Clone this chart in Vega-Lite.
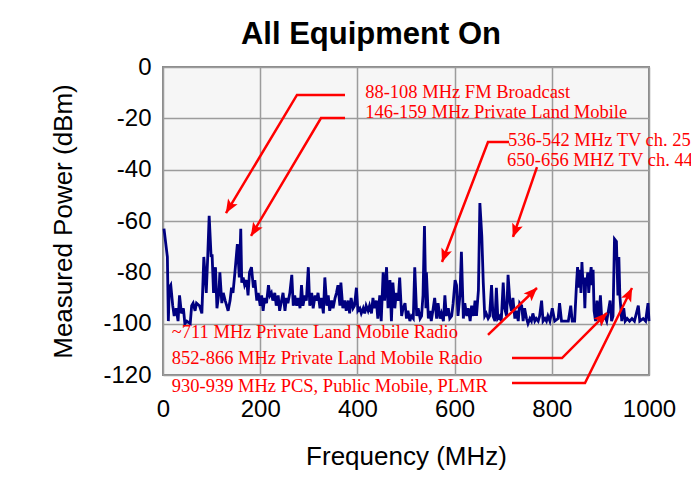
{
  "$schema": "https://vega.github.io/schema/vega-lite/v6.json",
  "width": 486,
  "height": 308,
  "autosize": {"type": "none"},
  "padding": {"left": 163, "top": 67, "right": 42, "bottom": 125},
  "background": "white",
  "title": {"text": "All Equipment On", "font": "Liberation Sans", "fontSize": 31, "fontWeight": "bold", "color": "black", "anchor": "middle", "dx": -35, "offset": 4},
  "config": {
    "view": {"fill": "#f6f6f6", "stroke": "#8a8a8a", "strokeWidth": 2},
    "axis": {"grid": true, "gridColor": "#9c9c9c", "gridWidth": 1.5, "domain": false, "ticks": false, "labelFont": "Liberation Sans", "labelFontSize": 24, "labelColor": "black", "labelFlush": false, "titleFont": "Liberation Sans", "titleFontSize": 26, "titleFontWeight": "normal", "titleColor": "black"}
  },
  "datasets": {
    "spectrum": [
      {"f":2,"p":-63},{"f":9,"p":-74},{"f":11,"p":-99},{"f":13,"p":-86},{"f":16,"p":-85},{"f":20,"p":-93},{"f":23,"p":-97},{"f":27,"p":-94},{"f":31,"p":-99},{"f":34,"p":-89},{"f":38,"p":-96},{"f":42,"p":-94},{"f":45,"p":-100},{"f":49,"p":-99},{"f":56,"p":-100},{"f":59,"p":-93},{"f":62,"p":-92},{"f":66,"p":-95},{"f":69,"p":-92},{"f":75,"p":-93},{"f":80,"p":-96},{"f":84,"p":-74},{"f":89,"p":-88},{"f":92,"p":-74},{"f":95,"p":-58},{"f":99,"p":-74},{"f":101,"p":-73},{"f":104,"p":-88},{"f":108,"p":-78},{"f":111,"p":-94},{"f":115,"p":-88},{"f":117,"p":-80},{"f":121,"p":-92},{"f":124,"p":-88},{"f":128,"p":-91},{"f":131,"p":-93},{"f":134,"p":-95},{"f":138,"p":-91},{"f":141,"p":-86},{"f":144,"p":-88},{"f":148,"p":-80},{"f":153,"p":-69},{"f":157,"p":-82},{"f":160,"p":-63},{"f":162,"p":-84},{"f":165,"p":-82},{"f":168,"p":-85},{"f":172,"p":-83},{"f":175,"p":-89},{"f":178,"p":-80},{"f":182,"p":-78},{"f":186,"p":-86},{"f":189,"p":-83},{"f":193,"p":-91},{"f":196,"p":-88},{"f":200,"p":-93},{"f":203,"p":-89},{"f":206,"p":-95},{"f":209,"p":-90},{"f":213,"p":-92},{"f":217,"p":-85},{"f":220,"p":-89},{"f":223,"p":-88},{"f":226,"p":-91},{"f":230,"p":-88},{"f":233,"p":-93},{"f":237,"p":-89},{"f":240,"p":-95},{"f":244,"p":-91},{"f":247,"p":-88},{"f":251,"p":-95},{"f":254,"p":-90},{"f":257,"p":-92},{"f":261,"p":-88},{"f":265,"p":-81},{"f":268,"p":-93},{"f":271,"p":-89},{"f":275,"p":-93},{"f":278,"p":-90},{"f":282,"p":-94},{"f":285,"p":-85},{"f":288,"p":-93},{"f":292,"p":-89},{"f":295,"p":-91},{"f":299,"p":-78},{"f":302,"p":-93},{"f":306,"p":-88},{"f":309,"p":-94},{"f":313,"p":-89},{"f":316,"p":-91},{"f":319,"p":-88},{"f":323,"p":-94},{"f":326,"p":-90},{"f":330,"p":-96},{"f":333,"p":-82},{"f":337,"p":-93},{"f":340,"p":-89},{"f":343,"p":-95},{"f":347,"p":-91},{"f":350,"p":-94},{"f":354,"p":-90},{"f":357,"p":-88},{"f":360,"p":-85},{"f":364,"p":-93},{"f":366,"p":-84},{"f":370,"p":-94},{"f":374,"p":-91},{"f":377,"p":-95},{"f":381,"p":-91},{"f":384,"p":-96},{"f":387,"p":-90},{"f":391,"p":-94},{"f":394,"p":-93},{"f":398,"p":-86},{"f":401,"p":-95},{"f":405,"p":-94},{"f":408,"p":-96},{"f":412,"p":-94},{"f":415,"p":-96},{"f":418,"p":-93},{"f":422,"p":-95},{"f":425,"p":-93},{"f":429,"p":-96},{"f":432,"p":-90},{"f":435,"p":-94},{"f":439,"p":-91},{"f":442,"p":-98},{"f":446,"p":-89},{"f":449,"p":-99},{"f":453,"p":-80},{"f":456,"p":-91},{"f":460,"p":-78},{"f":463,"p":-94},{"f":467,"p":-83},{"f":470,"p":-99},{"f":473,"p":-84},{"f":477,"p":-94},{"f":480,"p":-88},{"f":484,"p":-91},{"f":487,"p":-82},{"f":491,"p":-97},{"f":494,"p":-94},{"f":498,"p":-92},{"f":501,"p":-98},{"f":504,"p":-95},{"f":508,"p":-99},{"f":511,"p":-97},{"f":515,"p":-98},{"f":518,"p":-78},{"f":522,"p":-97},{"f":525,"p":-94},{"f":529,"p":-98},{"f":532,"p":-97},{"f":535,"p":-89},{"f":538,"p":-62},{"f":541,"p":-94},{"f":542,"p":-80},{"f":546,"p":-98},{"f":549,"p":-95},{"f":552,"p":-99},{"f":556,"p":-94},{"f":559,"p":-90},{"f":563,"p":-98},{"f":566,"p":-92},{"f":570,"p":-98},{"f":573,"p":-96},{"f":577,"p":-99},{"f":580,"p":-89},{"f":583,"p":-97},{"f":587,"p":-94},{"f":590,"p":-98},{"f":594,"p":-97},{"f":597,"p":-92},{"f":601,"p":-83},{"f":604,"p":-85},{"f":607,"p":-97},{"f":611,"p":-89},{"f":614,"p":-72},{"f":618,"p":-98},{"f":621,"p":-92},{"f":625,"p":-97},{"f":628,"p":-94},{"f":632,"p":-99},{"f":635,"p":-93},{"f":639,"p":-97},{"f":642,"p":-91},{"f":645,"p":-97},{"f":649,"p":-87},{"f":652,"p":-53},{"f":656,"p":-66},{"f":659,"p":-84},{"f":662,"p":-97},{"f":665,"p":-96},{"f":669,"p":-98},{"f":672,"p":-97},{"f":676,"p":-85},{"f":679,"p":-97},{"f":683,"p":-99},{"f":686,"p":-86},{"f":689,"p":-98},{"f":693,"p":-97},{"f":696,"p":-99},{"f":700,"p":-84},{"f":703,"p":-94},{"f":707,"p":-97},{"f":710,"p":-81},{"f":714,"p":-92},{"f":717,"p":-95},{"f":720,"p":-90},{"f":724,"p":-98},{"f":727,"p":-95},{"f":731,"p":-99},{"f":734,"p":-92},{"f":738,"p":-93},{"f":741,"p":-99},{"f":744,"p":-94},{"f":748,"p":-98},{"f":751,"p":-100},{"f":755,"p":-98},{"f":758,"p":-99},{"f":761,"p":-96},{"f":765,"p":-99},{"f":768,"p":-98},{"f":772,"p":-99},{"f":775,"p":-97},{"f":779,"p":-91},{"f":782,"p":-99},{"f":786,"p":-98},{"f":789,"p":-99},{"f":792,"p":-97},{"f":796,"p":-99},{"f":801,"p":-94},{"f":806,"p":-99},{"f":813,"p":-98},{"f":816,"p":-92},{"f":820,"p":-99},{"f":827,"p":-99},{"f":834,"p":-99},{"f":839,"p":-93},{"f":842,"p":-99},{"f":847,"p":-99},{"f":851,"p":-84},{"f":853,"p":-78},{"f":856,"p":-86},{"f":858,"p":-79},{"f":860,"p":-88},{"f":862,"p":-76},{"f":864,"p":-84},{"f":866,"p":-82},{"f":868,"p":-94},{"f":870,"p":-82},{"f":872,"p":-84},{"f":874,"p":-80},{"f":876,"p":-88},{"f":878,"p":-83},{"f":881,"p":-78},{"f":883,"p":-85},{"f":885,"p":-79},{"f":887,"p":-95},{"f":890,"p":-99},{"f":893,"p":-91},{"f":897,"p":-99},{"f":900,"p":-89},{"f":903,"p":-99},{"f":909,"p":-97},{"f":913,"p":-99},{"f":920,"p":-91},{"f":923,"p":-99},{"f":926,"p":-97},{"f":929,"p":-67},{"f":933,"p":-68},{"f":936,"p":-89},{"f":938,"p":-74},{"f":940,"p":-89},{"f":944,"p":-99},{"f":948,"p":-94},{"f":951,"p":-99},{"f":955,"p":-98},{"f":960,"p":-99},{"f":965,"p":-98},{"f":970,"p":-99},{"f":978,"p":-93},{"f":981,"p":-99},{"f":988,"p":-98},{"f":993,"p":-99},{"f":998,"p":-92},{"f":1000,"p":-99}
    ],
    "arrows": [
      {"id":"a1","seq":1,"f":374.5,"p":-10.9},{"id":"a1","seq":2,"f":275.7,"p":-10.9},{"id":"a1","seq":3,"f":129.6,"p":-56.9},
      {"id":"a2","seq":1,"f":374.5,"p":-19.9},{"id":"a2","seq":2,"f":325.1,"p":-19.9},{"id":"a2","seq":3,"f":181.1,"p":-65.8},
      {"id":"a3","seq":1,"f":712,"p":-29.2},{"id":"a3","seq":2,"f":668.7,"p":-29.2},{"id":"a3","seq":3,"f":574.1,"p":-76.0},
      {"id":"a4","seq":1,"f":769.5,"p":-39.0},{"id":"a4","seq":2,"f":720.2,"p":-66.2},
      {"id":"a5","seq":1,"f":668.7,"p":-104.4},{"id":"a5","seq":2,"f":769.5,"p":-86.1},
      {"id":"a6","seq":1,"f":718.1,"p":-113.4},{"id":"a6","seq":2,"f":821,"p":-113.4},{"id":"a6","seq":3,"f":913.6,"p":-95.8},
      {"id":"a7","seq":1,"f":718.1,"p":-123.1},{"id":"a7","seq":2,"f":868.3,"p":-123.1},{"id":"a7","seq":3,"f":965,"p":-86.1}
    ],
    "heads": [
      {"id":"a1","dir":"sw","f":137.0,"p":-54.5},
      {"id":"a2","dir":"sw","f":188.5,"p":-63.5},
      {"id":"a3","dir":"ssw","f":579.2,"p":-73.4},
      {"id":"a4","dir":"ssw","f":724.9,"p":-63.7},
      {"id":"a5","dir":"ne","f":759.3,"p":-88.0},
      {"id":"a6","dir":"ne","f":903.3,"p":-97.8},
      {"id":"a7","dir":"nne","f":958.6,"p":-88.6}
    ],
    "notes": [
      {"label":"88-108 MHz FM Broadcast","f":416,"p":-9.6},
      {"label":"146-159 MHz Private Land Mobile","f":416,"p":-17.4},
      {"label":"536-542 MHz TV ch. 25","f":710,"p":-28.4},
      {"label":"650-656 MHZ TV ch. 44","f":708,"p":-36.2},
      {"label":"~711 MHz Private Land Mobile Radio","f":18,"p":-103.1},
      {"label":"852-866 MHz Private Land Mobile Radio","f":18,"p":-113.4},
      {"label":"930-939 MHz PCS, Public Mobile, PLMR","f":18,"p":-124.2}
    ]
  },
  "encoding": {
    "x": {"field": "f", "type": "quantitative", "scale": {"domain": [0, 1000], "nice": false},
      "axis": {"title": "Frequency (MHz)", "values": [0, 200, 400, 600, 800, 1000], "labelPadding": 22, "titlePadding": 22, "labelExpr": "'' + datum.value"}},
    "y": {"field": "p", "type": "quantitative", "scale": {"domain": [-120, 0], "nice": false},
      "axis": {"title": "Measured Power (dBm)", "values": [-120, -100, -80, -60, -40, -20, 0], "labelPadding": 12, "titlePadding": 26, "labelExpr": "'' + datum.value"}}
  },
  "layer": [
    {"data": {"name": "spectrum"}, "mark": {"type": "line", "color": "#000080", "strokeWidth": 2.8, "strokeJoin": "miter"}},
    {"data": {"name": "arrows"}, "mark": {"type": "line", "color": "#ff0000", "strokeWidth": 2.5}, "encoding": {"detail": {"field": "id"}, "order": {"field": "seq", "type": "quantitative"}}},
    {"data": {"name": "heads"}, "transform": [{"filter": "datum.dir == 'sw'"}], "mark": {"type": "point", "shape": "M0,-1L0.75,0.85L0,0.45L-0.75,0.85Z", "filled": true, "color": "#ff0000", "opacity": 1, "size": 220, "angle": 211}},
    {"data": {"name": "heads"}, "transform": [{"filter": "datum.dir == 'ssw'"}], "mark": {"type": "point", "shape": "M0,-1L0.75,0.85L0,0.45L-0.75,0.85Z", "filled": true, "color": "#ff0000", "opacity": 1, "size": 220, "angle": 200}},
    {"data": {"name": "heads"}, "transform": [{"filter": "datum.dir == 'ne'"}], "mark": {"type": "point", "shape": "M0,-1L0.75,0.85L0,0.45L-0.75,0.85Z", "filled": true, "color": "#ff0000", "opacity": 1, "size": 220, "angle": 45}},
    {"data": {"name": "heads"}, "transform": [{"filter": "datum.dir == 'nne'"}], "mark": {"type": "point", "shape": "M0,-1L0.75,0.85L0,0.45L-0.75,0.85Z", "filled": true, "color": "#ff0000", "opacity": 1, "size": 220, "angle": 26}},
    {"data": {"name": "notes"}, "mark": {"type": "text", "align": "left", "baseline": "middle", "font": "Liberation Serif", "fontSize": 18.5, "color": "#ff0000"}, "encoding": {"text": {"field": "label"}}}
  ]
}
